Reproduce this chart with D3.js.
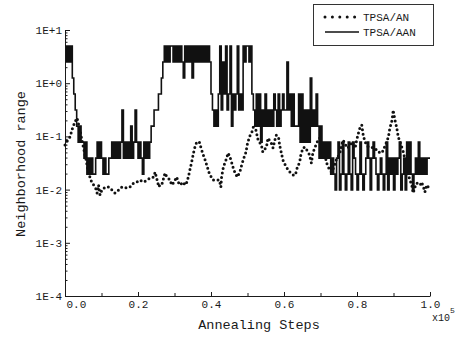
<!DOCTYPE html>
<html>
<head>
<meta charset="utf-8">
<script src="https://cdn.jsdelivr.net/npm/d3@7"></script>
<style>
  body { margin: 0; background: #fff; }
  svg { display: block; }
  text { font-family: "Liberation Mono", "DejaVu Sans Mono", monospace; fill: #1a1a1a; }
  .tick text { font-size: 11px; }
  .tick line, .domain { stroke: #1a1a1a; }
</style>
</head>
<body>
<div id="chart"></div>
<script>
// x in units of 1e5 annealing steps
const xTickValues = [0, 0.2, 0.4, 0.6, 0.8, 1.0];
const xTickLabels = ['0.0', '0.2', '0.4', '0.6', '0.8', '1.0'];
const xMinorTicks = [0.1, 0.3, 0.5, 0.7, 0.9];
const yTickValues = [1e-4, 1e-3, 1e-2, 1e-1, 1, 10];
const yTickLabels = ['1E-4', '1E-3', '1E-2', '1E-1', '1E+0', '1E+1'];
const seriesNames = ['TPSA/AN', 'TPSA/AAN'];

// TPSA/AN : [step, neighborhood range]
const anPoints = [
  [0.000, 0.069], [0.003, 0.075], [0.008, 0.086], [0.014, 0.098], [0.019, 0.132], [0.027, 0.187],
  [0.033, 0.222], [0.041, 0.132], [0.049, 0.069], [0.058, 0.036], [0.063, 0.023], [0.069, 0.0165],
  [0.074, 0.0133], [0.083, 0.0112], [0.088, 0.0086], [0.092, 0.0122], [0.096, 0.0079], [0.101, 0.0098],
  [0.110, 0.0112], [0.120, 0.0112], [0.129, 0.0098], [0.137, 0.0086], [0.147, 0.0098], [0.156, 0.0112],
  [0.170, 0.0107], [0.178, 0.0112], [0.188, 0.0133], [0.197, 0.0139], [0.205, 0.0151], [0.216, 0.0139],
  [0.225, 0.0151], [0.233, 0.0165], [0.243, 0.0173], [0.247, 0.0214], [0.257, 0.0112], [0.260, 0.0122],
  [0.265, 0.0122], [0.274, 0.0205], [0.279, 0.0173], [0.288, 0.0151], [0.292, 0.0122], [0.297, 0.0133],
  [0.306, 0.0173], [0.310, 0.0139], [0.315, 0.0122], [0.324, 0.0139], [0.329, 0.0122], [0.333, 0.0133],
  [0.338, 0.0173], [0.342, 0.0233], [0.347, 0.0330], [0.352, 0.0488], [0.356, 0.0632], [0.361, 0.0785],
  [0.368, 0.0785], [0.372, 0.0632], [0.377, 0.0488], [0.384, 0.0360], [0.390, 0.0266], [0.395, 0.0205],
  [0.402, 0.0165], [0.406, 0.0151], [0.416, 0.0151], [0.423, 0.0151], [0.427, 0.0112], [0.429, 0.0173],
  [0.434, 0.0266], [0.441, 0.0360], [0.447, 0.0488], [0.452, 0.0410], [0.457, 0.0316], [0.461, 0.0255],
  [0.466, 0.0205], [0.472, 0.0173], [0.479, 0.0214], [0.484, 0.0290], [0.490, 0.0393], [0.496, 0.0509],
  [0.499, 0.0689], [0.505, 0.0975], [0.512, 0.121], [0.516, 0.150], [0.523, 0.132], [0.529, 0.0856],
  [0.538, 0.0689], [0.542, 0.0509], [0.552, 0.0632], [0.556, 0.0933], [0.565, 0.0752], [0.570, 0.0605],
  [0.575, 0.0856], [0.579, 0.106], [0.585, 0.0975], [0.588, 0.0689], [0.597, 0.0360], [0.606, 0.0266],
  [0.616, 0.0214], [0.625, 0.0188], [0.631, 0.0188], [0.636, 0.0255], [0.643, 0.0330], [0.646, 0.0447],
  [0.652, 0.0605], [0.657, 0.0632], [0.666, 0.0509], [0.670, 0.0447], [0.675, 0.0316], [0.679, 0.0488],
  [0.684, 0.0605], [0.691, 0.0785], [0.698, 0.0933], [0.702, 0.0689], [0.707, 0.0509], [0.712, 0.0447],
  [0.717, 0.0316], [0.721, 0.0266], [0.730, 0.0214], [0.737, 0.0266], [0.743, 0.0360], [0.753, 0.0488],
  [0.758, 0.0689], [0.762, 0.0856], [0.772, 0.0632], [0.775, 0.0605], [0.785, 0.0752], [0.795, 0.0605],
  [0.799, 0.0856], [0.804, 0.116], [0.808, 0.144], [0.813, 0.164], [0.817, 0.106], [0.822, 0.0785],
  [0.831, 0.0632], [0.849, 0.0605], [0.858, 0.0509], [0.868, 0.0488], [0.872, 0.0555], [0.881, 0.0785],
  [0.886, 0.0975], [0.890, 0.144], [0.895, 0.187], [0.898, 0.253], [0.899, 0.313], [0.904, 0.203],
  [0.909, 0.144], [0.913, 0.0975], [0.918, 0.0785], [0.927, 0.0509], [0.936, 0.0266], [0.941, 0.0188],
  [0.945, 0.0151], [0.950, 0.0122], [0.954, 0.0086], [0.959, 0.0112], [0.964, 0.0133], [0.973, 0.0122],
  [0.977, 0.0139], [0.982, 0.0112], [0.986, 0.0090], [0.991, 0.0122], [0.997, 0.0107]
];

// TPSA/AAN : one value every 0.004 (x1e5) steps, from 0.0 to 1.0
const aanStepSize = 0.004;
const aanRange = [
  5, 2.5, 5, 2.5, 5,  1.25, 0.625, 0.313, 0.156, 0.078,
  0.156, 0.078, 0.078, 0.039, 0.078,  0.0195, 0.039, 0.0195, 0.039, 0.0195,
  0.0195, 0.039, 0.078, 0.039, 0.078,  0.039, 0.0195, 0.039, 0.0195, 0.0195,
  0.039, 0.039, 0.078, 0.039, 0.078,  0.039, 0.078, 0.039, 0.078, 0.313,
  0.039, 0.078, 0.039, 0.078, 0.039,  0.156, 0.039, 0.078, 0.313, 0.078,
  0.039, 0.078, 0.039, 0.0195, 0.078,  0.039, 0.078, 0.039, 0.078, 0.156,
  0.156, 0.313, 0.313, 0.313, 0.625,  0.625, 1.25, 2.5, 5, 2.5,
  5, 2.5, 5, 5, 2.5,  5, 2.5, 5, 2.5, 5,
  2.5, 1.25, 5, 2.5, 5,  2.5, 5, 1.25, 5, 2.5,
  5, 2.5, 5, 2.5, 5,  2.5, 5, 2.5, 5, 2.5,
  0.625, 0.313, 0.156, 0.313, 0.156,  0.625, 5, 0.313, 2.5, 0.625,
  5, 0.313, 0.625, 5, 0.156,  0.625, 0.313, 0.625, 5, 0.313,
  0.625, 0.313, 5, 2.5, 5,  5, 2.5, 5, 0.625, 0.313,
  0.156, 0.625, 0.156, 0.625, 0.078,  0.313, 0.156, 0.625, 0.156, 0.313,
  0.156, 0.313, 0.156, 0.625, 0.313,  0.156, 0.625, 0.156, 0.313, 0.625,
  0.313, 0.313, 2.5, 0.313, 0.625,  0.156, 0.625, 0.156, 0.156, 0.156,
  0.625, 0.078, 0.625, 0.078, 0.313,  0.078, 0.313, 0.078, 1.25, 0.156,
  0.313, 0.156, 0.625, 0.156, 0.039,  0.156, 0.039, 0.078, 0.039, 0.078,
  0.039, 0.078, 0.0195, 0.039, 0.0195,
  0.0098, 0.039, 0.078, 0.0098, 0.0195, 0.078, 0.0195, 0.0098, 0.0195, 0.078,
  0.0195, 0.0098, 0.078, 0.039, 0.0195, 0.0098, 0.0195, 0.078, 0.0195, 0.0098,
  0.0195, 0.039, 0.078, 0.039, 0.0098, 0.039, 0.078, 0.039, 0.0195, 0.0098,
  0.0195, 0.039, 0.0195, 0.0098, 0.0195, 0.078, 0.0098, 0.039, 0.0195, 0.039,
  0.0098, 0.039, 0.0195, 0.039, 0.078, 0.0098, 0.0195, 0.039, 0.0098, 0.078,
  0.0195, 0.078, 0.0195, 0.0098, 0.0195, 0.039, 0.0195, 0.078, 0.0195, 0.039,
  0.0195, 0.039, 0.0195, 0.039, 0.039, 0.039
];

const margin = { top: 30, right: 25, bottom: 41, left: 65 };
const width = 455 - margin.left - margin.right;
const height = 337 - margin.top - margin.bottom;

const x = d3.scaleLinear()
  .domain([0, 1])
  .range([0, width]);

const y = d3.scaleLog()
  .domain([1e-4, 10])
  .range([height, 0]);

const svg = d3.select('#chart')
  .append('svg')
  .attr('width', 455)
  .attr('height', 337);

const g = svg.append('g')
  .attr('transform', `translate(${margin.left}, ${margin.top})`);

// minor log ticks 2..9 in every decade
const yMinorTicks = [];
for (let e = -4; e < 1; e++) {
  for (let m = 2; m <= 9; m++) yMinorTicks.push(m * Math.pow(10, e));
}

g.append('g')
  .call(d3.axisLeft(y).tickValues(yMinorTicks).tickSize(-2.5).tickFormat(''))
  .select('.domain').remove();

g.append('g')
  .attr('class', 'axis axis--y')
  .call(d3.axisLeft(y)
    .tickValues(yTickValues)
    .tickFormat((d, i) => yTickLabels[i])
    .tickSize(-5)
    .tickSizeOuter(0)
    .tickPadding(3));

g.append('g')
  .attr('transform', `translate(0, ${height})`)
  .call(d3.axisBottom(x).tickValues(xMinorTicks).tickSize(-3).tickFormat(''))
  .select('.domain').remove();

const xAxis = g.append('g')
  .attr('class', 'axis axis--x')
  .attr('transform', `translate(0, ${height})`)
  .call(d3.axisBottom(x)
    .tickValues(xTickValues)
    .tickFormat((d, i) => xTickLabels[i])
    .tickSize(-4)
    .tickSizeOuter(0)
    .tickPadding(4));

// first label sits just right of the y axis, clear of 1E-4
xAxis.selectAll('.tick text')
  .filter(d => d === 0)
  .attr('text-anchor', 'start')
  .attr('dx', 1);

// series
const anLine = d3.line()
  .x(d => x(d[0]))
  .y(d => y(d[1]));

g.append('path')
  .datum(anPoints)
  .attr('d', anLine)
  .attr('fill', 'none')
  .attr('stroke', '#111')
  .attr('stroke-width', 3)
  .attr('stroke-linecap', 'round')
  .attr('stroke-dasharray', '0 4.5');

const aanLine = d3.line()
  .x((d, i) => x(i * aanStepSize))
  .y(d => y(d))
  .curve(d3.curveStepAfter);

g.append('path')
  .datum(aanRange)
  .attr('d', aanLine)
  .attr('fill', 'none')
  .attr('stroke', '#111')
  .attr('stroke-width', 1.6);

// axis titles
svg.append('text')
  .attr('x', 259)
  .attr('y', 329)
  .attr('text-anchor', 'middle')
  .style('font-size', '13.5px')
  .text('Annealing Steps');

svg.append('text')
  .attr('transform', 'translate(20, 164) rotate(-90)')
  .attr('dy', '0.35em')
  .attr('text-anchor', 'middle')
  .style('font-size', '13.5px')
  .text('Neighborhood range');

const mult = svg.append('text')
  .attr('x', 432)
  .attr('y', 321)
  .style('font-size', '10px');
mult.append('tspan').text('x10');
mult.append('tspan').attr('dy', -8).style('font-size', '8px').text('5');

// legend
const legend = svg.append('g');
legend.append('rect')
  .attr('x', 313.5).attr('y', 4.5)
  .attr('width', 120).attr('height', 41)
  .attr('fill', '#fff')
  .attr('stroke', '#333');

const legendY = [17, 32];
legend.selectAll('line.key')
  .data(seriesNames)
  .enter().append('line')
  .attr('class', 'key')
  .attr('x1', 325).attr('x2', 359)
  .attr('y1', (d, i) => legendY[i]).attr('y2', (d, i) => legendY[i])
  .attr('stroke', '#111')
  .attr('stroke-width', (d, i) => i === 0 ? 3 : 1.4)
  .attr('stroke-linecap', (d, i) => i === 0 ? 'round' : 'butt')
  .attr('stroke-dasharray', (d, i) => i === 0 ? '0 7.4' : null);

legend.selectAll('text')
  .data(seriesNames)
  .enter().append('text')
  .attr('x', 363)
  .attr('y', (d, i) => legendY[i])
  .attr('dy', '0.35em')
  .style('font-size', '11px')
  .text(d => d);
</script>
</body>
</html>
